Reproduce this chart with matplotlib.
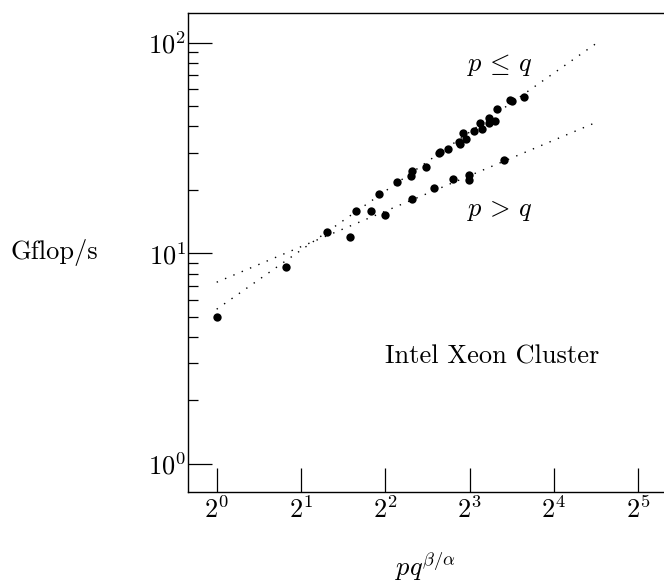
import numpy as np
import matplotlib
matplotlib.use("Agg")
import matplotlib.pyplot as plt
from matplotlib.ticker import FixedLocator, LogFormatterMathtext, NullFormatter

plt.rcParams["font.family"] = "serif"
plt.rcParams["font.serif"] = ["cmr10"]
plt.rcParams["mathtext.fontset"] = "cm"
plt.rcParams["axes.unicode_minus"] = False
plt.rcParams["axes.formatter.use_mathtext"] = True

# measured points, p <= q
pq_le_x = [1.0, 1.77, 2.47, 3.15, 3.79, 4.40, 4.99, 4.96, 5.59, 6.20, 6.29, 6.72,
           7.31, 7.41, 7.58, 7.79, 8.32, 8.73, 8.86, 9.41, 9.38, 9.86, 10.0,
           11.18, 11.37, 12.54]
gflops_le = [4.99, 8.62, 12.6, 15.9, 19.2, 21.8, 24.7, 23.2, 25.7, 29.8, 30.4, 31.4,
             33.9, 33.1, 37.1, 35.0, 37.9, 41.7, 39.0, 43.7, 41.6, 42.3, 48.6,
             53.6, 52.9, 55.0]

# measured points, p > q
pq_gt_x = [3.0, 3.55, 3.99, 4.99, 5.98, 7.0, 7.96, 7.94, 10.59]
gflops_gt = [11.97, 15.9, 15.2, 18.1, 20.5, 22.6, 23.5, 22.3, 27.8]

# model lines (end points)
fit_x = [1.0, 22.6]
fit_le = [5.42, 99.0]
fit_gt = [7.28, 41.8]

fig = plt.figure(figsize=(6.64, 5.82), dpi=100)
ax = fig.add_axes([0.2824, 0.1541, 0.7176, 0.8241])

ax.plot(fit_x, fit_le, color="black", lw=1.0, linestyle=(0, (1, 5.5)))
ax.plot(fit_x, fit_gt, color="black", lw=1.0, linestyle=(0, (1, 5.5)))
ax.plot(pq_le_x, gflops_le, "o", color="black", ms=6, mec="none")
ax.plot(pq_gt_x, gflops_gt, "o", color="black", ms=6, mec="none")

ax.set_xscale("log", base=2)
ax.set_yscale("log", base=10)
ax.set_xlim(2 ** -0.346, 2 ** 5.306)
ax.set_ylim(10 ** -0.136, 10 ** 2.1427)

ax.xaxis.set_major_locator(FixedLocator([2.0 ** k for k in range(6)]))
ax.xaxis.set_major_formatter(LogFormatterMathtext(base=2))
ax.xaxis.set_minor_locator(FixedLocator([]))
ax.yaxis.set_major_locator(FixedLocator([1, 10, 100]))
ax.yaxis.set_major_formatter(LogFormatterMathtext(base=10))
ax.yaxis.set_minor_locator(FixedLocator([d * s for s in (1, 10) for d in range(2, 10)]))
ax.yaxis.set_minor_formatter(NullFormatter())

ax.tick_params(which="major", direction="in", length=17, width=0.9, labelsize=19)
ax.tick_params(which="minor", direction="in", length=7, width=0.9)
ax.tick_params(axis="y", pad=1)
ax.tick_params(axis="x", pad=3)

ax.spines["right"].set_visible(False)
for s in ("left", "bottom", "top"):
    ax.spines[s].set_linewidth(1.0)

ax.text(10.23, 78.7, r"$p\,\leq\,q$", fontsize=19, ha="center", va="center")
ax.text(10.23, 15.8, r"$p\,>\,q$", fontsize=19, ha="center", va="center")
ax.text(9.65, 2.98, "Intel Xeon Cluster", fontsize=19, ha="center", va="baseline")

ax.set_xlabel(r"$pq^{\beta/\alpha}$", fontsize=19, labelpad=19)
fig.text(54 / 664, 1 - 252 / 582, "Gflop/s", fontsize=19, ha="center", va="center")

fig.savefig("out.png", dpi=100)
